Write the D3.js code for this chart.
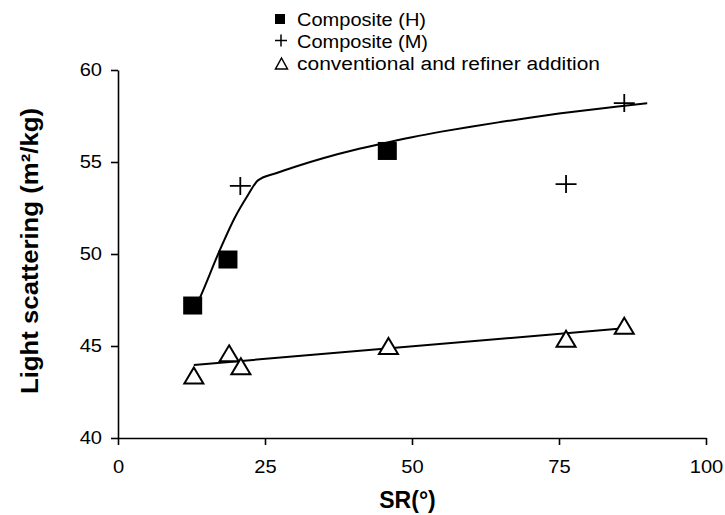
<!DOCTYPE html>
<html>
<head>
<meta charset="utf-8">
<script src="https://cdn.jsdelivr.net/npm/d3@7"></script>
<style>
  html, body { margin: 0; padding: 0; background: #fff; }
  svg { display: block; font-family: "Liberation Sans", Arial, sans-serif; }
</style>
</head>
<body>
<svg id="chart" width="725" height="515"></svg>
<script>
// ---- data ----
const compH_x = [12.7, 18.7, 45.8];
const compH_y = [47.2, 49.7, 55.6];

const compM_x = [20.8, 76.2, 86.1];
const compM_y = [53.7, 53.8, 58.2];

const conv_x = [12.9, 18.9, 20.9, 46.0, 76.2, 86.1];
const conv_y = [43.4, 44.6, 43.9, 45.0, 45.4, 46.1];

// fitted curve through the composite points (as drawn in the reference)
const compFit_x = [12.9, 13.9, 17.3, 19.9, 21.9, 23.8, 27, 30, 35, 40, 45, 50, 55, 60, 65, 70, 75, 80, 85, 90];
const compFit_y = [46.9, 47.6, 50.2, 52.0, 53.1, 54.0, 54.4, 54.73, 55.22, 55.64, 56.01, 56.35, 56.65, 56.92, 57.17, 57.41, 57.63, 57.83, 58.02, 58.2];

// linear fit through the conventional points
const convFit_x = [12.9, 86.1];
const convFit_y = [43.97, 45.96];

const xTicks = [0, 25, 50, 75, 100];
const yTicks = [40, 45, 50, 55, 60];

const legendLabels = ["Composite (H)", "Composite (M)", "conventional and refiner addition"];
const xTitle = "SR(°)";
const yTitle = "Light scattering (m²/kg)";

// ---- drawing ----
const svg = d3.select("#chart");
const x = d3.scaleLinear().domain([0, 100]).range([118, 706]);
const y = d3.scaleLinear().domain([40, 60]).range([438, 70]);

const tickScale = 1.15;

// y axis
const gy = svg.append("g").attr("transform", "translate(118,0)")
  .call(d3.axisLeft(y).tickValues(yTicks).tickSize(7).tickSizeOuter(0));
gy.select(".domain").attr("stroke", "#000").attr("stroke-width", 1.6);
gy.selectAll(".tick line").attr("stroke", "#000").attr("stroke-width", 1.6);
gy.selectAll(".tick text")
  .attr("font-size", 17.5).attr("font-family", "Liberation Sans, Arial, sans-serif")
  .attr("fill", "#000")
  .attr("x", -16 / tickScale)
  .attr("transform", `scale(${tickScale},1)`);

// x axis
const gx = svg.append("g").attr("transform", "translate(0,438)")
  .call(d3.axisBottom(x).tickValues(xTicks).tickSize(7).tickSizeOuter(0).tickPadding(16));
gx.select(".domain").attr("stroke", "#000").attr("stroke-width", 1.6);
gx.selectAll(".tick line").attr("stroke", "#000").attr("stroke-width", 1.6);
gx.selectAll(".tick text")
  .attr("font-size", 17.5).attr("font-family", "Liberation Sans, Arial, sans-serif")
  .attr("fill", "#000")
  .attr("transform", `scale(${tickScale},1)`);

// axis titles
svg.append("text")
  .attr("x", 407.5).attr("y", 508)
  .attr("text-anchor", "middle")
  .attr("font-weight", "bold").attr("font-size", 23)
  .text(xTitle);

svg.append("text")
  .attr("transform", "translate(38,251) rotate(-90)")
  .attr("text-anchor", "middle")
  .attr("font-weight", "bold").attr("font-size", 24)
  .attr("textLength", 286).attr("lengthAdjust", "spacingAndGlyphs")
  .text(yTitle);

// trend lines
const line = d3.line().x(d => x(d[0])).y(d => y(d[1]));
svg.append("path")
  .datum(compFit_x.map((v, i) => [v, compFit_y[i]]))
  .attr("d", line.curve(d3.curveMonotoneX))
  .attr("fill", "none").attr("stroke", "#000").attr("stroke-width", 2);

svg.append("path")
  .datum(convFit_x.map((v, i) => [v, convFit_y[i]]))
  .attr("d", d3.line().x(d => x(d[0])).y(d => y(d[1])))
  .attr("fill", "none").attr("stroke", "#000").attr("stroke-width", 2);

// markers
function trianglePath(w, h) {
  return `M0,${-h / 2}L${w / 2},${h / 2}L${-w / 2},${h / 2}Z`;
}
function plusPath(w, h) {
  return `M${-w / 2},0H${w / 2}M0,${-h / 2}V${h / 2}`;
}

svg.append("g").selectAll("path")
  .data(conv_x.map((v, i) => [v, conv_y[i]]))
  .join("path")
  .attr("transform", d => `translate(${x(d[0])},${y(d[1])})`)
  .attr("d", trianglePath(19, 16))
  .attr("fill", "#fff").attr("stroke", "#000").attr("stroke-width", 2)
  .attr("stroke-linejoin", "miter");

svg.append("g").selectAll("rect")
  .data(compH_x.map((v, i) => [v, compH_y[i]]))
  .join("rect")
  .attr("x", d => x(d[0]) - 9.5).attr("y", d => y(d[1]) - 9)
  .attr("width", 19).attr("height", 18)
  .attr("fill", "#000");

svg.append("g").selectAll("path")
  .data(compM_x.map((v, i) => [v, compM_y[i]]))
  .join("path")
  .attr("transform", d => `translate(${x(d[0])},${y(d[1])})`)
  .attr("d", plusPath(21, 18))
  .attr("fill", "none").attr("stroke", "#000").attr("stroke-width", 1.8);

// legend
const lg = svg.append("g");
lg.append("rect").attr("x", 275).attr("y", 14).attr("width", 10).attr("height", 10).attr("fill", "#000");
lg.append("path").attr("transform", "translate(281,40.5)").attr("d", plusPath(12, 12))
  .attr("stroke", "#000").attr("stroke-width", 1.5).attr("fill", "none");
lg.append("path").attr("transform", "translate(281.5,63.5)").attr("d", trianglePath(12, 11))
  .attr("stroke", "#000").attr("stroke-width", 1.5).attr("fill", "#fff");

const legendWidths = [129, 131, 303];
const legendY = [25.5, 47.5, 69.5];
lg.selectAll("text")
  .data(legendLabels)
  .join("text")
  .attr("x", 297).attr("y", (d, i) => legendY[i])
  .attr("font-size", 18)
  .attr("textLength", (d, i) => legendWidths[i]).attr("lengthAdjust", "spacingAndGlyphs")
  .text(d => d);
</script>
</body>
</html>
